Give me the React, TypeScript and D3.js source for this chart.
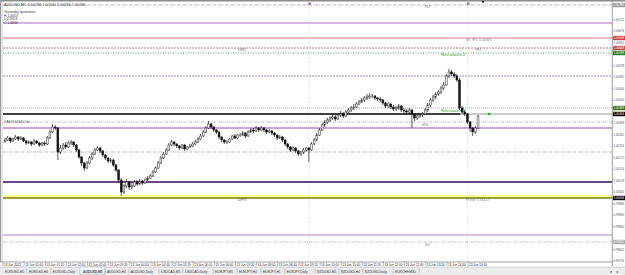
import React from "react";
import * as d3 from "d3";

// ---- Data (AUDUSD, M5, 13 Jun 2012) ----
const CLOSE = [
  1.0024, 1.00248, 1.00236, 1.00244, 1.00252, 1.00244, 1.00248, 1.00236, 1.00228, 1.00232,
  1.00224, 1.00236, 1.00228, 1.0022, 1.00228, 1.00224, 1.00248, 1.00272, 1.00292, 1.00288,
  1.00192, 1.00208, 1.0022, 1.00212, 1.00228, 1.00232, 1.0022, 1.002, 1.00172, 1.00148,
  1.00128, 1.00148, 1.00168, 1.00184, 1.002, 1.00208, 1.00196, 1.0018, 1.00168, 1.00156,
  1.0016, 1.0014, 1.0012, 1.0008, 1.00032, 1.00056, 1.00072, 1.00052, 1.00056, 1.00072,
  1.00064, 1.00076, 1.00068, 1.0008, 1.00088, 1.00096, 1.00112, 1.00128, 1.00148, 1.00168,
  1.00184, 1.002, 1.0022, 1.00232, 1.00224, 1.00216, 1.00208, 1.0022, 1.00204, 1.00212,
  1.00216, 1.00224, 1.00232, 1.00244, 1.00256, 1.00272, 1.00288, 1.00304, 1.00292, 1.0028,
  1.00272, 1.00252, 1.0024, 1.00232, 1.00232, 1.00244, 1.00256, 1.00248, 1.0026, 1.0026,
  1.00268, 1.00256, 1.00272, 1.0028, 1.00276, 1.00288, 1.0028, 1.00288, 1.0028, 1.00272,
  1.00276, 1.00268, 1.0026, 1.00248, 1.00252, 1.0024, 1.00224, 1.00212, 1.002, 1.00208,
  1.00196, 1.00184, 1.00192, 1.002, 1.00208, 1.002, 1.00224, 1.0024, 1.0026, 1.0028,
  1.003, 1.00312, 1.0032, 1.00328, 1.00332, 1.00324, 1.0034, 1.00344, 1.00336, 1.00352,
  1.0036, 1.00368, 1.00372, 1.00384, 1.00392, 1.004, 1.00408, 1.00412, 1.00416, 1.00416,
  1.00408, 1.00404, 1.004, 1.00388, 1.00376, 1.00384, 1.00372, 1.00364, 1.00368, 1.00376,
  1.0036, 1.00356, 1.00352, 1.0036, 1.00344, 1.00328, 1.00336, 1.0034, 1.00344, 1.0036,
  1.0038, 1.004, 1.00412, 1.00424, 1.00432, 1.00448, 1.0046, 1.00496, 1.00512, 1.00504,
  1.00496, 1.0048, 1.00368, 1.00352, 1.00344, 1.00312, 1.00288, 1.00272, 1.00288, 1.00336,
];
const HIGH = [
  1.00248, 1.00256, 1.00252, 1.00248, 1.0026, 1.00256, 1.00256, 1.00252, 1.0024, 1.0024,
  1.00236, 1.00244, 1.0024, 1.00232, 1.00232, 1.00236, 1.00256, 1.0028, 1.00304, 1.003,
  1.00292, 1.0022, 1.00228, 1.00232, 1.00236, 1.0024, 1.00236, 1.00224, 1.00204, 1.00176,
  1.00152, 1.00156, 1.00176, 1.00192, 1.00208, 1.00216, 1.00212, 1.002, 1.00184, 1.00172,
  1.00168, 1.00164, 1.00144, 1.00124, 1.00088, 1.00064, 1.00084, 1.00076, 1.00068, 1.0008,
  1.0008, 1.00084, 1.0008, 1.00088, 1.00096, 1.00104, 1.0012, 1.00136, 1.00156, 1.00176,
  1.00192, 1.00208, 1.00228, 1.0024, 1.00236, 1.00228, 1.0022, 1.00224, 1.00224, 1.00216,
  1.00224, 1.00232, 1.0024, 1.00252, 1.00264, 1.0028, 1.00296, 1.00316, 1.00308, 1.00296,
  1.00284, 1.00276, 1.00256, 1.00244, 1.0024, 1.00248, 1.0026, 1.00264, 1.00264, 1.00268,
  1.00276, 1.00272, 1.0028, 1.00288, 1.00288, 1.00296, 1.00292, 1.00296, 1.00292, 1.00284,
  1.00284, 1.0028, 1.00272, 1.00264, 1.0026, 1.00256, 1.00244, 1.00228, 1.00216, 1.00216,
  1.00212, 1.002, 1.00196, 1.00208, 1.00212, 1.00212, 1.00232, 1.00248, 1.00268, 1.00288,
  1.00308, 1.0032, 1.00328, 1.00336, 1.00344, 1.0034, 1.00348, 1.00356, 1.00352, 1.0036,
  1.00368, 1.00376, 1.00384, 1.00392, 1.004, 1.00408, 1.00416, 1.00424, 1.00428, 1.00424,
  1.0042, 1.00412, 1.00412, 1.00404, 1.00392, 1.00392, 1.00388, 1.0038, 1.00376, 1.00384,
  1.0038, 1.00368, 1.00364, 1.00368, 1.00364, 1.00348, 1.00344, 1.00348, 1.00352, 1.00368,
  1.00388, 1.00408, 1.0042, 1.00432, 1.0044, 1.00456, 1.00472, 1.00504, 1.00524, 1.0052,
  1.00512, 1.00504, 1.00488, 1.00376, 1.0036, 1.00348, 1.00316, 1.00292, 1.00296, 1.0034,
];
const LOW = [
  1.00228, 1.00236, 1.00228, 1.00232, 1.0024, 1.00236, 1.0024, 1.00232, 1.0022, 1.00224,
  1.00216, 1.0022, 1.00224, 1.00212, 1.00216, 1.00216, 1.0022, 1.00244, 1.00268, 1.0028,
  1.0016, 1.00184, 1.002, 1.00204, 1.00208, 1.0022, 1.00212, 1.00192, 1.00164, 1.00136,
  1.00116, 1.00124, 1.00144, 1.0016, 1.0018, 1.00196, 1.00188, 1.00172, 1.0016, 1.00148,
  1.00148, 1.00132, 1.00112, 1.00068, 1.00016, 1.00024, 1.00048, 1.0004, 1.00044, 1.00052,
  1.00056, 1.0006, 1.0006, 1.00064, 1.00076, 1.00084, 1.00092, 1.00108, 1.00124, 1.00144,
  1.00164, 1.0018, 1.00196, 1.00216, 1.00216, 1.00208, 1.002, 1.00204, 1.00196, 1.002,
  1.00208, 1.00212, 1.0022, 1.00228, 1.0024, 1.00252, 1.00268, 1.00284, 1.00284, 1.00272,
  1.00264, 1.00244, 1.00232, 1.00224, 1.00224, 1.00228, 1.0024, 1.00244, 1.00244, 1.00252,
  1.00256, 1.00248, 1.00252, 1.00268, 1.00268, 1.00272, 1.00272, 1.00276, 1.00272, 1.00264,
  1.00268, 1.0026, 1.00252, 1.0024, 1.00244, 1.00232, 1.00216, 1.00204, 1.00192, 1.00196,
  1.00188, 1.00176, 1.00176, 1.00184, 1.00192, 1.00152, 1.00196, 1.0022, 1.00236, 1.00256,
  1.00276, 1.00292, 1.00304, 1.00312, 1.0032, 1.00316, 1.0032, 1.00332, 1.00328, 1.00332,
  1.00348, 1.00352, 1.0036, 1.00368, 1.0038, 1.00388, 1.00392, 1.004, 1.00404, 1.00408,
  1.004, 1.00396, 1.00392, 1.0038, 1.00368, 1.00368, 1.00364, 1.00356, 1.00356, 1.0036,
  1.00352, 1.00348, 1.0034, 1.00344, 1.00288, 1.00316, 1.0032, 1.00328, 1.00332, 1.0034,
  1.00352, 1.00372, 1.00392, 1.00404, 1.00416, 1.00424, 1.0044, 1.00456, 1.00488, 1.00496,
  1.00488, 1.00472, 1.0036, 1.00344, 1.00336, 1.00304, 1.00272, 1.00256, 1.00264, 1.00284,
];
const FIRST_OPEN = 1.00236;

const TIME_LABELS = [
  "13 Jun 2012", "13 Jun 00:40", "13 Jun 01:20", "13 Jun 02:00", "13 Jun 02:40", "13 Jun 03:20",
  "13 Jun 04:00", "13 Jun 04:40", "13 Jun 05:20", "13 Jun 06:00", "13 Jun 06:40", "13 Jun 07:20",
  "13 Jun 08:00", "13 Jun 08:40", "13 Jun 09:20", "13 Jun 10:00", "13 Jun 10:40", "13 Jun 11:20",
  "13 Jun 12:00", "13 Jun 12:40", "13 Jun 13:20", "13 Jun 14:00", "13 Jun 14:40",
];
const BARS_PER_TIME_LABEL = 8;

const PRICE_TICKS = [
  1.00768, 1.00722, 1.00676, 1.0063, 1.00584, 1.00538, 1.00492, 1.00446, 1.004, 1.00354,
  1.00308, 1.00262, 1.00216, 1.0017, 1.00124, 1.00078, 1.00032, 0.99986, 0.9994, 0.99894,
  0.99848, 0.99802, 0.99756,
];

const LEVEL_NAMES = [
  "R2", "WR2", "W_R1", "DR1", "Resistance 2", "WM", "Res1", "HLine", "PDH", "M3",
  "DM", "DS1", "Pivot", "WS1", "S1",
];
const LEVEL_PRICES = [
  1.0078, 1.00708, 1.00648, 1.00608, 1.00588, 1.00496, 1.00368, 1.00344, 1.00312, 1.00288,
  1.00192, 1.00072, 1.00008, 0.9986, 0.99832,
];

const VLINE_BARS = [115, 175];

const TABS = [
  "EURUSD,M5", "EURUSD,H4", "EURUSD,Daily", "AUDUSD,M5", "AUDUSD,H4", "AUDUSD,Daily",
  "USDCAD,M5", "USDCAD,Daily", "EURJPY,M5", "EURJPY,H4", "EURJPY,H1", "EURJPY,Daily",
  "NZDUSD,M5", "NZDUSD,H4", "NZDUSD,Daily", "EURCHF,M30",
];
const ACTIVE_TAB = "AUDUSD,M5";

const YESTERDAY = ["Yesterday quotations", "H 1.0053", "L 0.9953", "C 1.0000"];

// ---- Styles / layout ----
const W = 625, H = 275;
const PL = 3, PR = 612, PT = 2, PB = 262;
const FONT = "'Liberation Sans', Arial, sans-serif";

type LS = { color: string; w: number; dash?: string; band?: string; box?: string; boxText?: string };
const LEVEL_STYLE: Record<string, LS> = {
  "R2": { color: "#a8a8a8", w: 0.8, dash: "3,1,1,1", box: "#9a9a9a", boxText: "#fff" },
  "WR2": { color: "#c89cd8", w: 1.6 },
  "W_R1": { color: "#eaa6ae", w: 1.6, box: "#d23a3a", boxText: "#fff" },
  "DR1": { color: "#a0605c", w: 0.8, dash: "2,1", box: "#c04848", boxText: "#fff" },
  "Resistance 2": { color: "#3aa03a", w: 0.9, dash: "1,1.5", box: "#1e7a1e", boxText: "#fff" },
  "WM": { color: "#8a6a88", w: 0.8, dash: "2,1" },
  "Res1": { color: "#c4a468", w: 0.9, dash: "1,1", box: "#3a6a1a", boxText: "#fff" },
  "HLine": { color: "#000", w: 1.4, box: "#000", boxText: "#fff" },
  "PDH": { color: "#b0b0b0", w: 0.8, dash: "3,1,1,1" },
  "M3": { color: "#b88ac8", w: 1.3 },
  "DM": { color: "#c8a878", w: 0.8, dash: "3,1,1,1" },
  "DS1": { color: "#3c0a5a", w: 1.5 },
  "Pivot": { color: "#7a7a00", w: 1.4, band: "#ffff9a", box: "#000", boxText: "#fff" },
  "WS1": { color: "#b486c4", w: 1.1 },
  "S1": { color: "#b4b4b4", w: 0.8, dash: "3,1,1,1", box: "#aaaaaa", boxText: "#fff" },
};

const LEVEL_LABELS: { level: string; text: string; x: number; color: string; dy: number }[] = [
  { level: "R2", text: "R2", x: 425, color: "#888", dy: 3 },
  { level: "W_R1", text: "W_R1 1.0065", x: 466, color: "#888", dy: 3 },
  { level: "DR1", text: "DR1", x: 238, color: "#777", dy: 3 },
  { level: "DR1", text: "R1", x: 476, color: "#777", dy: 3 },
  { level: "Resistance 2", text: "Resistance 2", x: 441, color: "#2a9a2a", dy: 3 },
  { level: "Res1", text: "Resistance 1", x: 441, color: "#2a9a2a", dy: 4 },
  { level: "PDH", text: "#AUDUSD#m", x: 4, color: "#555", dy: 1 },
  { level: "M3", text: "M3", x: 422, color: "#888", dy: -2 },
  { level: "Pivot", text: "DPV", x: 238, color: "#555", dy: 3 },
  { level: "Pivot", text: "Pivot 1.0001", x: 466, color: "#888", dy: 3 },
  { level: "S1", text: "S1", x: 425, color: "#888", dy: 4 },
];

export default function App() {
  const n = CLOSE.length;
  const x = d3.scaleLinear().domain([0, 179]).range([5, 478]);
  const y = d3.scaleLinear().domain([0.99752, 1.00792]).range([PB, PT]);
  const step = x(1) - x(0);
  const bars = CLOSE.map((c, i) => ({
    o: i === 0 ? FIRST_OPEN : CLOSE[i - 1],
    h: HIGH[i],
    l: LOW[i],
    c,
  }));
  const last = bars[n - 1];
  const f5 = d3.format(".5f");
  const fs = 4.2;
  const axFs = 2.9;

  const levelY = (name: string) => y(LEVEL_PRICES[LEVEL_NAMES.indexOf(name)]);
  const boxYs = LEVEL_NAMES.filter((nm) => LEVEL_STYLE[nm].box).map((nm) => levelY(nm));

  // tab layout
  const tabW = (t: string) => t.length * 2.1 + 5;
  let tx = 3;
  const tabPos = TABS.map((t) => {
    const p = { t, x: tx, w: tabW(t) };
    tx += p.w;
    return p;
  });

  return (
    <div style={{ position: "absolute", left: 0, top: 0, width: W, height: H }}>
      <svg width={W} height={H} style={{ display: "block" }} fontFamily={FONT}>
        <rect x={0} y={0} width={W} height={H} fill="#fff" />
        {/* window frame */}
        <rect x={0} y={0} width={W} height={1.5} fill="#8c8c8c" />
        <rect x={0} y={0} width={1.2} height={PB} fill="#9a9a9a" />
        <line x1={PL - 0.5} x2={PL - 0.5} y1={PT} y2={PB} stroke="#cfcfcf" strokeWidth={0.6} />

        {/* vertical lines */}
        {VLINE_BARS.map((b, i) => (
          <g key={"v" + i}>
            <line x1={x(b)} x2={x(b)} y1={PT} y2={PB} stroke="#c8c8c8" strokeWidth={0.7} strokeDasharray="1,1.5" />
            <rect x={x(b) - 0.5} y={2.5} width={2.5} height={2.5} fill="#9a6ab0" />
          </g>
        ))}
        <rect x={482} y={1} width={2} height={1.5} fill="#000" />

        {/* levels */}
        {LEVEL_NAMES.map((name, i) => {
          const s = LEVEL_STYLE[name];
          const yy = y(LEVEL_PRICES[i]);
          if (name === "HLine") {
            return (
              <g key={name}>
                <line x1={PL} x2={x(172) + 1} y1={yy} y2={yy} stroke={s.color} strokeWidth={s.w} />
                <line x1={x(172) + 1} x2={PR} y1={yy} y2={yy} stroke="#8a8a8a" strokeWidth={0.9} />
                <rect x={488} y={yy - 1.2} width={2.4} height={2.4} fill="#22bb22" />
              </g>
            );
          }
          return (
            <g key={name}>
              {s.band && <rect x={PL} y={yy - 3} width={PR - PL} height={2.4} fill={s.band} />}
              <line x1={PL} x2={PR} y1={yy} y2={yy} stroke={s.color} strokeWidth={s.w} strokeDasharray={s.dash} />
            </g>
          );
        })}

        {LEVEL_LABELS.map((lb, i) => (
          <text key={"ll" + i} x={lb.x} y={levelY(lb.level) + lb.dy} fontSize={fs} fill={lb.color}>
            {lb.text}
          </text>
        ))}

        {/* candles */}
        {bars.map((b, i) => {
          const cx = x(i);
          const up = b.c >= b.o;
          const top = y(Math.max(b.o, b.c));
          const bot = y(Math.min(b.o, b.c));
          const bw = Math.max(1.6, step * 0.7);
          return (
            <g key={"c" + i}>
              <line x1={cx} x2={cx} y1={y(b.h)} y2={y(b.l)} stroke="#111" strokeWidth={0.7} />
              <rect
                x={cx - bw / 2}
                y={top}
                width={bw}
                height={Math.max(0.7, bot - top)}
                fill={up ? "#f4f4f4" : "#111"}
                stroke={up ? "#333" : "#111"}
                strokeWidth={0.5}
              />
            </g>
          );
        })}

        {/* top-left info */}
        <text x={4} y={5.8} fontSize={3.8} fill="#444">
          {`AUDUSD,M5 ${f5(last.o)} ${f5(last.h)} ${f5(last.l)} ${f5(last.c)}`}
        </text>
        {YESTERDAY.map((t, i) => (
          <text key={"yq" + i} x={4} y={13 + i * 3.7} fontSize={3.4} fill="#333">
            {t}
          </text>
        ))}

        {/* price axis */}
        <rect x={PR} y={PT} width={W - PR} height={PB - PT} fill="#fff" />
        <line x1={PR + 0.3} x2={PR + 0.3} y1={0} y2={PB + 4} stroke="#888" strokeWidth={0.8} />
        {PRICE_TICKS.map((p, i) => {
          const yy = y(p);
          const hidden = boxYs.some((b) => Math.abs(b - yy) < 4.2);
          return (
            <g key={"pt" + i}>
              <line x1={PR} x2={PR + 1.3} y1={yy} y2={yy} stroke="#888" strokeWidth={0.5} />
              {!hidden && (
                <text x={PR + 1.6} y={yy + 1.1} fontSize={axFs} fill="#555">
                  {f5(p)}
                </text>
              )}
            </g>
          );
        })}
        {LEVEL_NAMES.map((name, i) => {
          const s = LEVEL_STYLE[name];
          if (!s.box) return null;
          const yy = y(LEVEL_PRICES[i]);
          return (
            <g key={"bx" + name}>
              <rect x={PR + 1} y={yy - 2.2} width={W - PR - 1} height={4.4} fill={s.box} />
              <text x={PR + 1.6} y={yy + 1.1} fontSize={axFs} fill={s.boxText}>
                {f5(LEVEL_PRICES[i])}
              </text>
            </g>
          );
        })}

        {/* time axis */}
        <line x1={0} x2={PR} y1={PB} y2={PB} stroke="#888" strokeWidth={0.8} />
        {TIME_LABELS.map((t, k) => {
          const xx = x(k * BARS_PER_TIME_LABEL) - 2;
          return (
            <g key={"tl" + k}>
              <line x1={xx} x2={xx} y1={PB} y2={PB + 4} stroke="#777" strokeWidth={0.5} />
              <text x={xx + 1} y={PB + 3.9} fontSize={3.1} fill="#333">
                {t}
              </text>
            </g>
          );
        })}

        {/* tabs */}
        <rect x={0} y={267} width={W} height={8} fill="#ececec" />
        <line x1={0} x2={W} y1={267} y2={267} stroke="#b8b8b8" strokeWidth={0.6} />
        {tabPos.map((p, i) => {
          const active = p.t === ACTIVE_TAB;
          return (
            <g key={"tab" + i}>
              {active && (
                <rect x={p.x - 1} y={267} width={p.w + 1} height={7} fill="#fff" stroke="#999" strokeWidth={0.5} />
              )}
              <text x={p.x + 2} y={272.5} fontSize={3.3} fill="#333" fontWeight={active ? "bold" : "normal"}>
                {p.t}
              </text>
              <line x1={p.x + p.w} x2={p.x + p.w} y1={268.5} y2={273.5} stroke="#999" strokeWidth={0.5} />
            </g>
          );
        })}
        <text x={609} y={272.5} fontSize={3.3} fill="#555">◄</text>
        <text x={616} y={272.5} fontSize={3.3} fill="#555">►</text>
      </svg>
    </div>
  );
}
